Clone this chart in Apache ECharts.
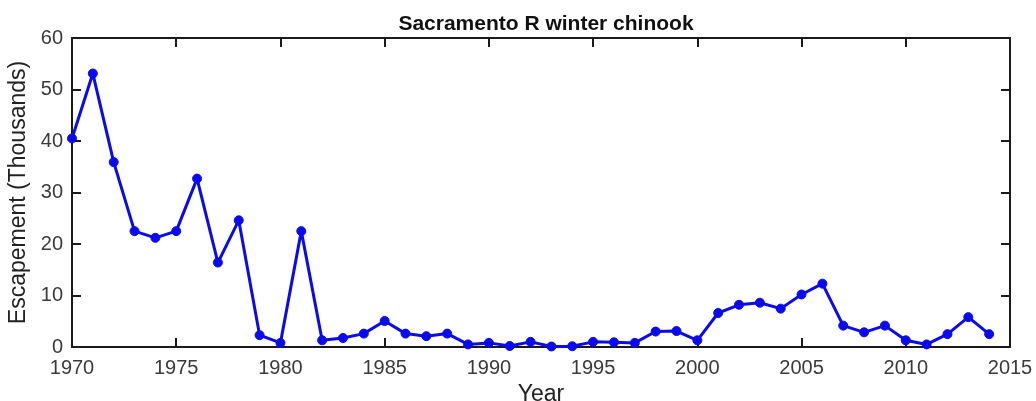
<!DOCTYPE html>
<html>
<head>
<meta charset="utf-8">
<script src="https://cdn.jsdelivr.net/npm/echarts@6/dist/echarts.min.js"></script>
<style>
  html, body { margin: 0; padding: 0; background: #fff; }
  #chart { width: 1036px; height: 401px; }
</style>
</head>
<body>
<div id="chart"></div>
<script>
// Winter-run chinook escapement, Sacramento River (thousands of fish)
const years = [
  1970, 1971, 1972, 1973, 1974, 1975, 1976, 1977, 1978, 1979,
  1980, 1981, 1982, 1983, 1984, 1985, 1986, 1987, 1988, 1989,
  1990, 1991, 1992, 1993, 1994, 1995, 1996, 1997, 1998, 1999,
  2000, 2001, 2002, 2003, 2004, 2005, 2006, 2007, 2008, 2009,
  2010, 2011, 2012, 2013, 2014
];
const escapement = [
  40.5, 53.1, 35.9, 22.5, 21.2, 22.5, 32.7, 16.4, 24.6, 2.3,
  0.8, 22.5, 1.3, 1.75, 2.6, 5.05, 2.6, 2.1, 2.6, 0.5,
  0.8, 0.2, 1.0, 0.1, 0.15, 1.0, 0.9, 0.8, 3.0, 3.1,
  1.3, 6.6, 8.2, 8.6, 7.45, 10.2, 12.3, 4.15, 2.85, 4.15,
  1.3, 0.5, 2.5, 5.8, 2.5
];
const xTicks = { min: 1970, max: 2015, step: 5 };
const yTicks = { min: 0, max: 60, step: 10 };

const chart = echarts.init(document.getElementById('chart'), null, { renderer: 'canvas' });

const fontFamily = 'Arial, "Liberation Sans", sans-serif';
const frameLine = { show: true, onZero: false, lineStyle: { color: '#1a1a1a', width: 2 } };
const innerTick = { show: true, inside: true, length: 9, lineStyle: { color: '#1a1a1a', width: 2 } };
const tickFont = { color: '#3a3a3a', fontSize: 20, fontFamily: fontFamily };
const nameFont = { color: '#222', fontSize: 23, fontFamily: fontFamily };

chart.setOption({
  animation: false,
  backgroundColor: '#ffffff',
  title: {
    text: 'Sacramento R winter chinook',
    left: 541,
    textAlign: 'center',
    top: 9,
    textStyle: { fontSize: 21, fontWeight: 'bold', color: '#111', fontFamily: fontFamily }
  },
  grid: { left: 72, right: 26, top: 38, bottom: 54, containLabel: false, outerBoundsMode: 'none' },
  xAxis: [
    {
      type: 'value', position: 'bottom',
      min: xTicks.min, max: xTicks.max, interval: xTicks.step,
      name: 'Year', nameLocation: 'middle', nameGap: 30,
      nameTextStyle: nameFont,
      axisLine: frameLine, axisTick: innerTick,
      axisLabel: Object.assign({ margin: 11, formatter: v => String(v) }, tickFont),
      splitLine: { show: false }
    },
    {
      type: 'value', position: 'top',
      min: xTicks.min, max: xTicks.max, interval: xTicks.step,
      axisLine: frameLine, axisTick: innerTick,
      axisLabel: { show: false }, splitLine: { show: false }
    }
  ],
  yAxis: [
    {
      type: 'value', position: 'left',
      min: yTicks.min, max: yTicks.max, interval: yTicks.step,
      name: 'Escapement (Thousands)', nameLocation: 'middle', nameGap: 36,
      nameTextStyle: nameFont,
      axisLine: frameLine, axisTick: innerTick,
      axisLabel: Object.assign({ margin: 9 }, tickFont),
      splitLine: { show: false }
    },
    {
      type: 'value', position: 'right',
      min: yTicks.min, max: yTicks.max, interval: yTicks.step,
      axisLine: frameLine, axisTick: innerTick,
      axisLabel: { show: false }, splitLine: { show: false }
    }
  ],
  series: [
    {
      type: 'line',
      xAxisIndex: 0, yAxisIndex: 0,
      data: years.map((y, i) => [y, escapement[i]]),
      symbol: 'circle',
      symbolSize: 9,
      lineStyle: { color: '#0a0aee', width: 3 },
      itemStyle: { color: '#0a0aee', borderColor: '#0a0aee', borderWidth: 1 },
      clip: false
    }
  ]
});
</script>
</body>
</html>
